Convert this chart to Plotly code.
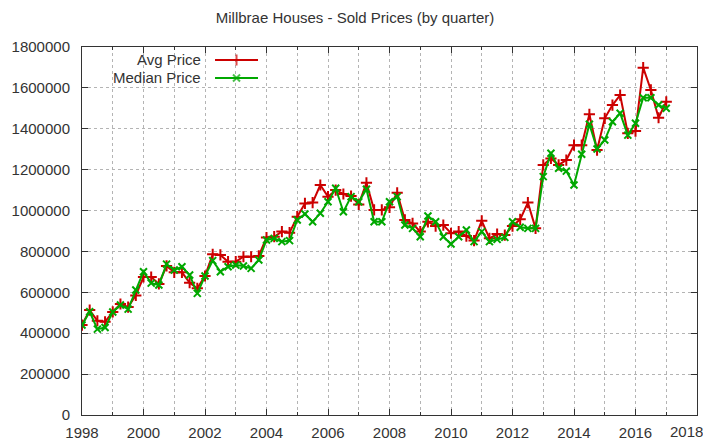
import plotly.graph_objects as go

# Quarterly periods 1998 Q1 .. 2017 Q1
start_year = 1998
n_quarters = 77
quarters = [start_year + 0.25 * i for i in range(n_quarters)]

x_tick_years = [1998, 2000, 2002, 2004, 2006, 2008, 2010, 2012, 2014, 2016, 2018]

avg_price = [
    440000, 513000, 461000, 456000, 504000, 543000, 528000, 585000,
    675000, 675000, 641000, 729000, 698000, 698000, 647000, 620000,
    680000, 786000, 783000, 750000, 750000, 774000, 774000, 778000,
    868000, 872000, 897000, 892000, 970000, 1035000, 1039000, 1125000,
    1068000, 1100000, 1081000, 1071000, 1030000, 1136000, 1003000, 1003000,
    1016000, 1087000, 954000, 937000, 897000, 945000, 924000, 929000,
    889000, 897000, 875000, 853000, 950000, 864000, 885000, 880000,
    924000, 957000, 1039000, 913000, 1223000, 1255000, 1223000, 1247000,
    1320000, 1320000, 1471000, 1296000, 1451000, 1516000, 1565000, 1378000,
    1389000, 1699000, 1590000, 1454000, 1532000,
]

median_price = [
    440000, 505000, 420000, 428000, 504000, 538000, 518000, 611000,
    701000, 645000, 636000, 738000, 709000, 725000, 685000, 595000,
    680000, 755000, 701000, 725000, 734000, 729000, 717000, 758000,
    856000, 864000, 848000, 853000, 954000, 983000, 945000, 987000,
    1043000, 1109000, 994000, 1068000, 1043000, 1104000, 945000, 945000,
    1043000, 1068000, 929000, 913000, 872000, 973000, 945000, 872000,
    836000, 872000, 905000, 848000, 897000, 848000, 859000, 869000,
    945000, 918000, 913000, 913000, 1166000, 1280000, 1207000, 1193000,
    1125000, 1275000, 1422000, 1301000, 1345000, 1434000, 1476000, 1369000,
    1427000, 1552000, 1552000, 1516000, 1500000,
]

series_names = ["Avg Price", "Median Price"]
title_text = "Millbrae Houses - Sold Prices (by quarter)"

RED = "#cc0000"
GREEN = "#00a800"
FONT = "Liberation Sans, Arial, sans-serif"
TXT = "#333333"
GRID = "#b4b4b4"

# page body has an 8px margin; figure sized to fit the 711x442 window
W, H = 703, 434

fig = go.Figure()

fig.add_trace(go.Scatter(
    x=quarters, y=avg_price, mode="lines+markers", name=series_names[0],
    line=dict(color=RED, width=2),
    marker=dict(symbol="cross-thin", size=8, line=dict(color=RED, width=2)),
    showlegend=False,
))
fig.add_trace(go.Scatter(
    x=quarters, y=median_price, mode="lines+markers", name=series_names[1],
    line=dict(color=GREEN, width=2),
    marker=dict(symbol="x-thin", size=7, line=dict(color=GREEN, width=2)),
    showlegend=False,
))

# gnuplot-style key: text right-aligned, sample to its right (overlay axes in 0..1)
key_text_x = 0.197
key_x0, key_x1 = 0.2163, 0.2862
key_rows = [0.9647, 0.9158]
key_styles = [(RED, "cross-thin", 8), (GREEN, "x-thin", 7)]
for name, ky, (col, sym, sz) in zip(series_names, key_rows, key_styles):
    fig.add_trace(go.Scatter(
        x=[key_x0, (key_x0 + key_x1) / 2, key_x1], y=[ky, ky, ky],
        xaxis="x2", yaxis="y2", mode="lines+markers",
        line=dict(color=col, width=2),
        marker=dict(symbol=sym, size=[0, sz, 0], line=dict(color=col, width=2)),
        showlegend=False, hoverinfo="skip",
    ))
    fig.add_annotation(
        x=key_text_x, y=ky, xref="paper", yref="paper", text=name,
        showarrow=False, xanchor="right", yanchor="middle",
        font=dict(family=FONT, size=15, color=TXT),
    )

# last x tick label sits at the very edge: draw it nudged inwards so it stays visible
tick_text = [str(v) for v in x_tick_years[:-1]] + [""]
fig.add_annotation(
    x=x_tick_years[-1], y=0, xref="x", yref="paper", text=str(x_tick_years[-1]),
    showarrow=False, xanchor="right", yanchor="middle", xshift=8, yshift=-16,
    font=dict(family=FONT, size=15, color=TXT),
)

axis_common = dict(
    showline=True, linecolor="#333333", linewidth=1, mirror="ticks",
    ticks="inside", tickcolor="#333333", ticklen=6,
    showgrid=True, gridcolor=GRID, griddash="dot", gridwidth=1,
    zeroline=False, automargin=False, ticklabeloverflow="allow",
    tickfont=dict(family=FONT, size=15, color=TXT),
)

fig.update_layout(
    width=W, height=H,
    margin=dict(l=74, r=14, t=39, b=27),
    paper_bgcolor="white", plot_bgcolor="white",
    title=dict(text=title_text, x=347 / W, xref="container", xanchor="center",
               y=1 - 10 / H, yref="container", yanchor="middle",
               font=dict(family=FONT, size=15, color=TXT), automargin=False),
    xaxis=dict(range=[1998, 2018], tickmode="array", tickvals=x_tick_years,
               ticktext=tick_text,
               minor=dict(tickmode="linear", tick0=1998, dtick=1, ticks="inside",
                          ticklen=3, tickcolor="#333333",
                          showgrid=True, gridcolor=GRID, griddash="dot"),
               ticklabelstandoff=4,
               **axis_common),
    yaxis=dict(range=[0, 1800000], dtick=200000, tickformat="d",
               ticklabelstandoff=8, **axis_common),
    xaxis2=dict(range=[0, 1], overlaying="x", visible=False, domain=[0, 1]),
    yaxis2=dict(range=[0, 1], overlaying="y", visible=False, domain=[0, 1]),
)

fig.write_html("out.html")
